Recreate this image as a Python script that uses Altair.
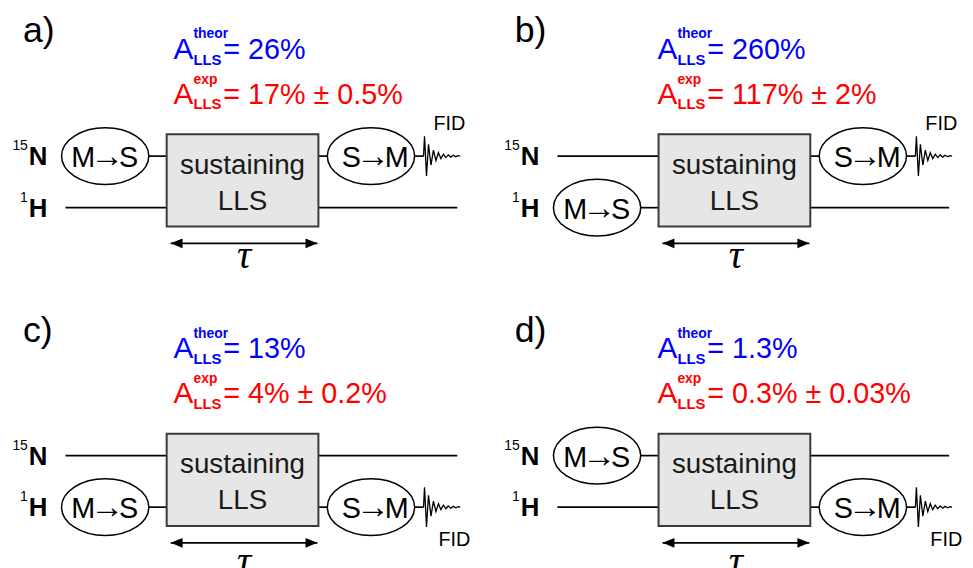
import altair as alt
import pandas as pd

# ---------------- content ----------------
panel_tags = ["a)", "b)", "c)", "d)"]
theor_values = ["26%", "260%", "13%", "1.3%"]
exp_values = ["17% ± 0.5%", "117% ± 2%", "4% ± 0.2%", "0.3% ± 0.03%"]
ms_channel = ["15N", "1H", "1H", "15N"]   # channel carrying M→S
sm_channel = ["15N", "15N", "1H", "1H"]   # channel carrying S→M + FID
channels = ["15N", "1H"]
channel_mass = ["15", "1"]
channel_elem = ["N", "H"]
# FID trace (offsets from its start)
fid_dx = [0, 1, 3, 5, 7.5, 10, 12.5, 15, 17.5, 20, 22.5, 25, 27.5, 30, 32.5, 35, 37]
fid_dy = [0, -20, 20, -12, 9, -6, 4.5, -3.5, 2.5, -2, 1.5, -1.2, 1, -0.8, 0.6, -0.4, 0]

# ---------------- layout (pixels) ----------------
PAGE_W, PAGE_H, MARGIN = 973, 568, 8
diag_dx = [0, 496, 0, 496]
text_dx = [0, 488, 0, 488]
panel_dy = [0, 0, 302, 302]
tau_dy = [0, 0, 308, 308]
chan_y = {"15N": 155, "1H": 207}
BOX_L, BOX_R, BOX_T, BOX_B = 168, 321, 133, 226
LINE_L, LINE_R = 66, 461
MS_X, SM_X, RX = 106, 374, 44
FID_X = 427
ARW_L, ARW_R, ARW_Y = 172, 320, 243

xs = alt.Scale(domain=[MARGIN, PAGE_W], nice=False, zero=False)
ys = alt.Scale(domain=[MARGIN, PAGE_H], nice=False, zero=False, reverse=True)
X = lambda f="x": alt.X(f"{f}:Q", scale=xs, axis=None)
Y = lambda f="y": alt.Y(f"{f}:Q", scale=ys, axis=None)

rules, boxes, ells, fids, heads, texts = [], [], [], [], [], []


def add_text(style, x, y, t):
    texts.append(dict(style=style, x=x, y=y, t=t))


def add_ellipse(cx, cy, left, right):
    ells.append(dict(x=cx, y=cy))
    add_text("ellL", cx - 10, cy + 11, left)
    add_text("ellArrow", cx + 2, cy + 11, "→")
    add_text("ellR", cx + 14, cy + 11, right)


for p in range(4):
    ox, tx, oy = diag_dx[p], text_dx[p], panel_dy[p]
    for ch in channels:
        y = chan_y[ch] + oy
        if ms_channel[p] == ch:
            rules.append(dict(x=MS_X + RX + ox, x2=BOX_L + ox, y=y))
            add_ellipse(MS_X + ox, y, "M", "S")
        else:
            rules.append(dict(x=LINE_L + ox, x2=BOX_L + ox, y=y))
        if sm_channel[p] == ch:
            rules.append(dict(x=BOX_R + ox, x2=SM_X - RX + ox, y=y))
            rules.append(dict(x=SM_X + RX + ox, x2=FID_X + ox, y=y))
            add_ellipse(SM_X + ox, y, "S", "M")
            for i, (dx, dy) in enumerate(zip(fid_dx, fid_dy)):
                fids.append(dict(p=p, i=i, x=FID_X + ox + dx, y=y + dy))
            if ch == "15N":
                add_text("fid", FID_X + 10 + ox, 129 + oy, "FID")
            else:
                add_text("fid", FID_X + 15 + ox, 246 + oy, "FID")
        else:
            rules.append(dict(x=BOX_R + ox, x2=LINE_R + ox, y=y))
    boxes.append(dict(x=BOX_L + ox, x2=BOX_R + ox, y=BOX_T + oy, y2=BOX_B + oy))
    rules.append(dict(x=ARW_L + ox, x2=ARW_R + ox, y=ARW_Y + oy))
    heads.append(dict(x=ARW_L + 6 + ox, y=ARW_Y + oy, d="L"))
    heads.append(dict(x=ARW_R - 6 + ox, y=ARW_Y + oy, d="R"))

    add_text("tag", 23 + ox, 40 + oy, panel_tags[p])
    add_text("blueA", 175 + tx, 57 + oy, "A")
    add_text("blueSub", 195 + tx, 63 + oy, "LLS")
    add_text("blueSup", 195 + tx, 36 + oy, "theor")
    add_text("blueMain", 225 + tx, 57 + oy, "= " + theor_values[p])
    add_text("redA", 175 + tx, 102 + oy, "A")
    add_text("redSub", 195 + tx, 108 + oy, "LLS")
    add_text("redSup", 195 + tx, 82 + oy, "exp")
    add_text("redMain", 225 + tx, 102 + oy, "= " + exp_values[p])
    cx = (BOX_L + BOX_R) / 2 + ox
    add_text("box", cx, 173 + oy, "sustaining")
    add_text("box", cx, 209 + oy, "LLS")
    for ch, mass, el in zip(channels, channel_mass, channel_elem):
        y = chan_y[ch] + oy
        add_text("mass", 28 + ox, y - 6, mass)
        add_text("elem", 29 + ox, y + 9, el)
    add_text("tau", (ARW_L + ARW_R) / 2 + ox, 268 + tau_dy[p], "τ")

rules_df = pd.DataFrame(rules)
boxes_df = pd.DataFrame(boxes)
ells_df = pd.DataFrame(ells)
fids_df = pd.DataFrame(fids)
heads_df = pd.DataFrame(heads)
texts_df = pd.DataFrame(texts)

layers = []
layers.append(alt.Chart(rules_df).mark_rule(color="black", strokeWidth=1.7).encode(
    x=X(), x2="x2:Q", y=Y()))
layers.append(alt.Chart(boxes_df).mark_rect(fill="#e6e6e6", stroke="#3a3a3a", strokeWidth=2).encode(
    x=X(), x2="x2:Q", y=Y(), y2="y2:Q"))
k = 0.65
c = 0.5523
ell_path = (f"M -1 0 C -1 {-c*k:.4f} {-c:.4f} {-k} 0 {-k} "
            f"C {c:.4f} {-k} 1 {-c*k:.4f} 1 0 "
            f"C 1 {c*k:.4f} {c:.4f} {k} 0 {k} "
            f"C {-c:.4f} {k} -1 {c*k:.4f} -1 0 Z")
layers.append(alt.Chart(ells_df).mark_point(
    shape=ell_path, size=(2 * RX) ** 2, filled=True, fill="white", stroke="black",
    strokeWidth=1.5, opacity=1).encode(x=X(), y=Y()))
layers.append(alt.Chart(fids_df).mark_line(color="black", strokeWidth=1.3).encode(
    x=X(), y=Y(), detail="p:N", order="i:Q"))
for d, path in [("L", "M -1 0 L 1 -0.8 L 1 0.8 Z"), ("R", "M 1 0 L -1 -0.8 L -1 0.8 Z")]:
    layers.append(alt.Chart(heads_df[heads_df.d == d]).mark_point(
        shape=path, size=144, filled=True, color="black", opacity=1, strokeWidth=0).encode(
        x=X(), y=Y()))

styles = {
    "tag": dict(fontSize=36, color="black"),
    "blueA": dict(fontSize=30, color="#0000ff"),
    "blueSub": dict(fontSize=15, color="#0000ff", fontWeight="bold"),
    "blueSup": dict(fontSize=14, color="#0000ff", fontWeight="bold"),
    "blueMain": dict(fontSize=29, color="#0000ff"),
    "redA": dict(fontSize=30, color="#ff0000"),
    "redSub": dict(fontSize=15, color="#ff0000", fontWeight="bold"),
    "redSup": dict(fontSize=14, color="#ff0000", fontWeight="bold"),
    "redMain": dict(fontSize=29, color="#ff0000"),
    "box": dict(fontSize=28, color="#1a1a1a", align="center"),
    "mass": dict(fontSize=14, color="black", align="right"),
    "elem": dict(fontSize=26, color="black", fontWeight="bold"),
    "fid": dict(fontSize=20, color="black"),
    "tau": dict(fontSize=40, color="black", align="center", font="Liberation Serif", fontStyle="italic"),
    "ellL": dict(fontSize=29, color="black", align="right"),
    "ellR": dict(fontSize=29, color="black", align="left"),
    "ellArrow": dict(fontSize=34, color="black", align="center"),
}
for name, st in styles.items():
    st = dict(st)
    st.setdefault("font", "Liberation Sans")
    st.setdefault("align", "left")
    layers.append(alt.Chart(texts_df[texts_df["style"] == name]).mark_text(
        baseline="alphabetic", **st).encode(x=X(), y=Y(), text="t:N"))

chart = alt.layer(*layers).properties(
    width=PAGE_W - MARGIN, height=PAGE_H - MARGIN, padding=0,
    autosize=alt.AutoSizeParams(type="none"),
    background="white",
).configure_view(stroke=None)

chart.save("out.html", embed_options={"renderer": "svg", "actions": False})
